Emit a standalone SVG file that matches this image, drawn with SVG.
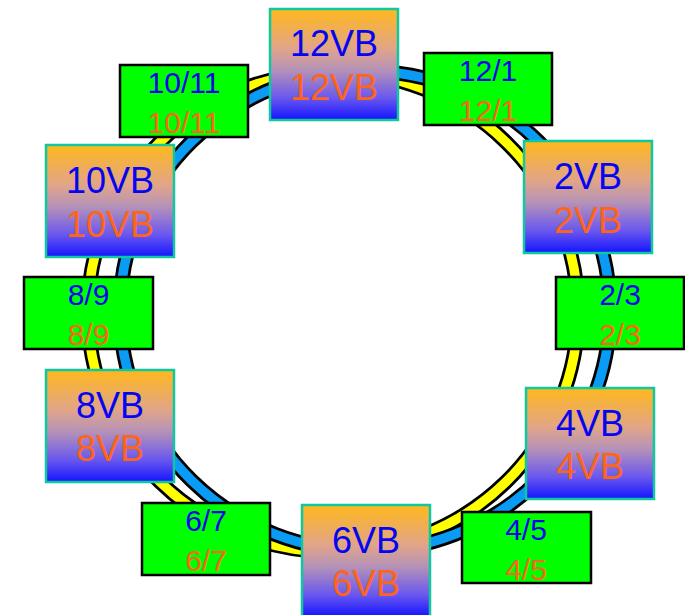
<svg xmlns="http://www.w3.org/2000/svg" width="685" height="615" viewBox="0 0 685 615">
<defs>
<linearGradient id="vbg" x1="0" y1="0" x2="0" y2="1">
<stop offset="0" stop-color="#FFB81C"/>
<stop offset="0.35" stop-color="#E2A587"/>
<stop offset="0.55" stop-color="#B592B8"/>
<stop offset="0.8" stop-color="#6A58EE"/>
<stop offset="1" stop-color="#1414FF"/>
</linearGradient>
<style>
.ringo{fill:none;stroke:#000;stroke-width:15}
.ringy{fill:none;stroke:#FFFF00;stroke-width:9.5}
.ringb{fill:none;stroke:#0A9BF5;stroke-width:9.5}
.vb{fill:url(#vbg);stroke:#10C8A0;stroke-width:2.5}
.gr{fill:#00FF00;stroke:#000;stroke-width:2.5}
text{font-family:"Liberation Sans",Arial,sans-serif;text-anchor:middle}
.big{font-size:36px}
.sm{font-size:30px}
.b{fill:#0505F0}
.o{fill:#FF6418}
</style>
</defs>
<rect width="685" height="615" fill="#fff"/>
<g id="connectors">
<ellipse class="ringo" cx="333" cy="312" rx="245" ry="240"/>
<ellipse class="ringy" cx="333" cy="312" rx="245" ry="240"/>
<ellipse class="ringo" cx="365" cy="311" rx="245" ry="240"/>
<ellipse class="ringb" cx="365" cy="311" rx="245" ry="240"/>
</g>
<g id="n12VB"><rect class="vb" x="270" y="9" width="128" height="111"/><text class="big b" x="334" y="56">12VB</text><text class="big o" x="334" y="100">12VB</text></g>
<g id="n10VB"><rect class="vb" x="46" y="145" width="128" height="112"/><text class="big b" x="110" y="193">10VB</text><text class="big o" x="110" y="237">10VB</text></g>
<g id="n2VB"><rect class="vb" x="524" y="141" width="128" height="112"/><text class="big b" x="588" y="189">2VB</text><text class="big o" x="588" y="233">2VB</text></g>
<g id="n4VB"><rect class="vb" x="526" y="388" width="128" height="111"/><text class="big b" x="590" y="436">4VB</text><text class="big o" x="590" y="479">4VB</text></g>
<g id="n6VB"><rect class="vb" x="302" y="505" width="128" height="112"/><text class="big b" x="366" y="553">6VB</text><text class="big o" x="366" y="596">6VB</text></g>
<g id="n8VB"><rect class="vb" x="46" y="370" width="128" height="112"/><text class="big b" x="110" y="418">8VB</text><text class="big o" x="110" y="461">8VB</text></g>
<g id="n12_1"><rect class="gr" x="424" y="53" width="128" height="72"/><text class="sm b" x="488" y="81">12/1</text><text class="sm o" x="488" y="121">12/1</text></g>
<g id="n10_11"><rect class="gr" x="120" y="65" width="128" height="72"/><text class="sm b" x="184" y="93">10/11</text><text class="sm o" x="184" y="133">10/11</text></g>
<g id="n8_9"><rect class="gr" x="24" y="277" width="129" height="72"/><text class="sm b" x="88.5" y="305">8/9</text><text class="sm o" x="88.5" y="345">8/9</text></g>
<g id="n2_3"><rect class="gr" x="556" y="277" width="128" height="72"/><text class="sm b" x="620" y="305">2/3</text><text class="sm o" x="620" y="345">2/3</text></g>
<g id="n4_5"><rect class="gr" x="462" y="512" width="129" height="71"/><text class="sm b" x="526" y="540">4/5</text><text class="sm o" x="526" y="580">4/5</text></g>
<g id="n6_7"><rect class="gr" x="142" y="503" width="128" height="72"/><text class="sm b" x="206" y="531">6/7</text><text class="sm o" x="206" y="571">6/7</text></g>
</svg>
